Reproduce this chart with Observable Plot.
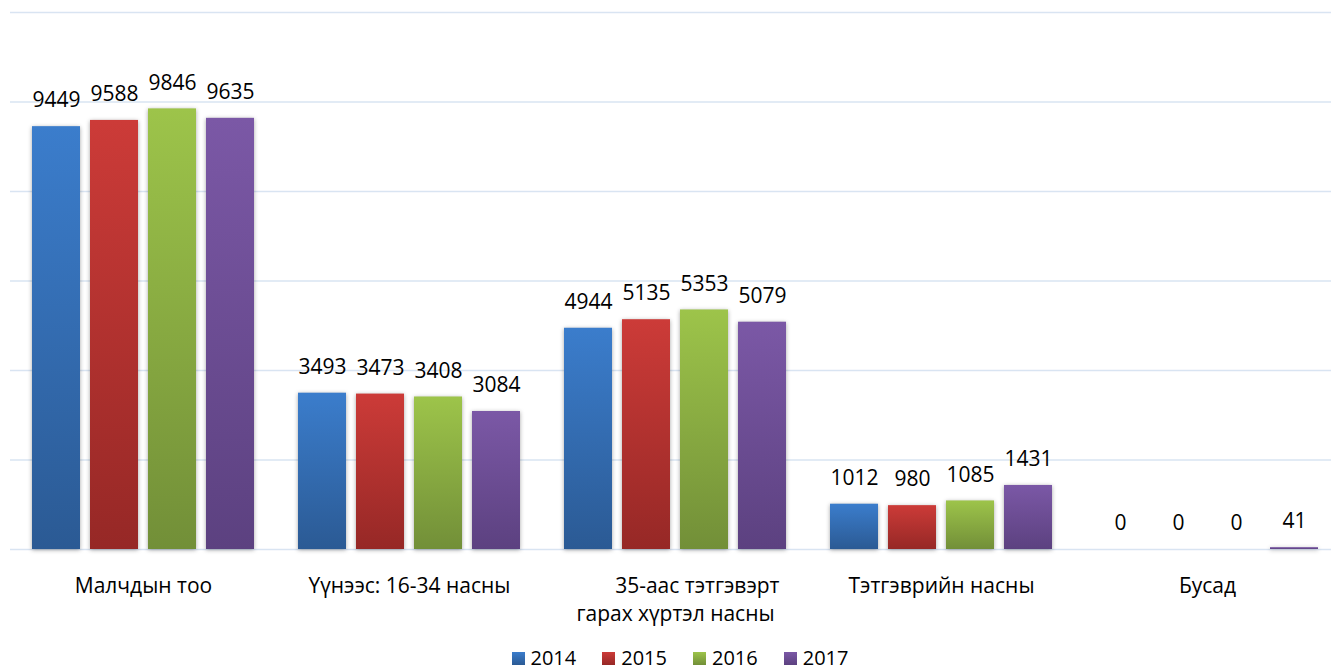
<!DOCTYPE html>
<html><head><meta charset="utf-8">
<script src="https://cdn.jsdelivr.net/npm/d3@7"></script>
<script src="https://cdn.jsdelivr.net/npm/@observablehq/plot@0.6"></script>
<style>
html,body{margin:0;padding:0;background:#fff;overflow:hidden}
#chart svg{display:block;overflow:visible}
#chart g[aria-label="bar"] rect{filter:drop-shadow(0 1px 2px rgba(0,0,0,.35))}
.legend{display:flex;justify-content:center;gap:26px;font:20px "Open Sans",sans-serif;color:#000;height:27px;line-height:27px;padding-left:29px}
.legend .it{display:flex;align-items:center}
.legend .sw{display:inline-block;width:13px;height:13px;margin-right:6px;margin-top:2px}
</style></head>
<body>
<div id="chart"></div>
<div class="legend" id="legend"></div>
<script>
const categories = ["Малчдын тоо", "Үүнээс: 16-34 насны", "35-аас тэтгэвэрт гарах хүртэл насны", "Тэтгэврийн насны", "Бусад"];
const categoryLabels = ["Малчдын тоо", "Үүнээс: 16-34 насны", "\u00a0\u00a0\u00a0\u00a0\u00a0\u00a0\u00a0\u00a035-аас тэтгэвэрт\nгарах хүртэл насны", "Тэтгэврийн насны", "Бусад"];
const years = ["2014", "2015", "2016", "2017"];
const v2014 = [9449, 3493, 4944, 1012, 0];
const v2015 = [9588, 3473, 5135, 980, 0];
const v2016 = [9846, 3408, 5353, 1085, 0];
const v2017 = [9635, 3084, 5079, 1431, 41];
const series = [v2014, v2015, v2016, v2017];
const topColors = ["#3b7dcc", "#cc3b38", "#9dc44a", "#7b58a6"];
const bottomColors = ["#2b5a94", "#962826", "#728f38", "#5c4180"];
const yTicks = [0, 2000, 4000, 6000, 8000, 10000, 12000];

const rows = categories.flatMap((c, i) => years.map((y, j) => ({cat: c, year: y, value: series[j][i]})));
const labelOf = Object.fromEntries(categories.map((c, i) => [c, categoryLabels[i]]));

const chart = Plot.plot({
  width: 1331,
  height: 644,
  marginTop: 12,
  marginBottom: 95,
  marginLeft: 10,
  marginRight: 0,
  style: {fontFamily: "Open Sans", fontSize: "21px", color: "#000", background: "#fff"},
  fx: {domain: categories, range: [9, 1341], padding: 0},
  x: {domain: years, paddingInner: 0.17, paddingOuter: 0.37, axis: null},
  y: {domain: [0, 12000], axis: null},
  marks: [
    Plot.gridY(yTicks, {stroke: "#d9e4f2", strokeOpacity: 1, strokeWidth: 1.5}),
    ...years.map((yr, j) => Plot.barY(rows.filter(d => d.year === yr), {
      fx: "cat", x: "year", y: "value", fill: `url(#grad${j})`
    })),
    Plot.text(rows, {fx: "cat", x: "year", y: "value", text: d => String(d.value), dy: -26, fontSize: 21, fill: "#000"}),
    Plot.axisFx({anchor: "bottom", tickSize: 0, tickPadding: 23, fontSize: 21, lineHeight: 1.35, label: null, tickFormat: c => labelOf[c], fill: "#000"})
  ]
});

const defs = d3.select(chart).insert("defs", ":first-child");
years.forEach((yr, j) => {
  const g = defs.append("linearGradient").attr("id", `grad${j}`).attr("x1", 0).attr("y1", 0).attr("x2", 0).attr("y2", 1);
  g.append("stop").attr("offset", "0%").attr("stop-color", topColors[j]);
  g.append("stop").attr("offset", "100%").attr("stop-color", bottomColors[j]);
});
document.getElementById("chart").append(chart);

const legend = document.getElementById("legend");
years.forEach((yr, j) => {
  const it = document.createElement("span");
  it.className = "it";
  const sw = document.createElement("span");
  sw.className = "sw";
  sw.style.background = `linear-gradient(${topColors[j]}, ${bottomColors[j]})`;
  it.append(sw, document.createTextNode(yr));
  legend.append(it);
});
</script>
</body></html>
